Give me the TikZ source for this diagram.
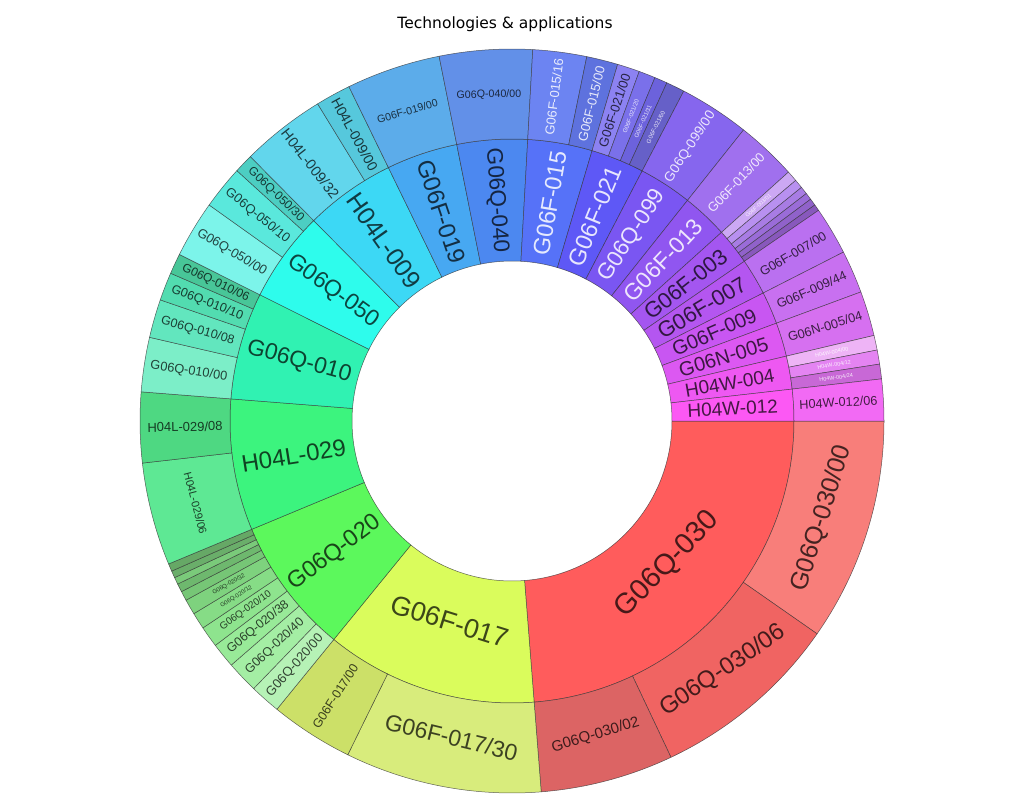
\documentclass[tikz,border=0pt]{standalone}
\usepackage{fontspec}
\setmainfont{Liberation Sans}
\newfontfamily\titlefont{DejaVu Sans}

\tikzstyle{seg} = [draw=black!80, line width=0.5pt, draw opacity=0.75]
\tikzstyle{lab} = [text=black, text opacity=0.72, inner sep=0pt, anchor=center]
\tikzstyle{wlab} = [lab, text=white, text opacity=0.85]

\newcommand{\lblsize}[1]{\fontsize{#1}{#1}\selectfont}
% ring segment: inner r, outer r, start, end, fill (HTML)
\newcommand{\ringseg}[5]{\definecolor{segfill}{HTML}{#5}%
  \filldraw[seg, fill=segfill] (#3:#1pt) arc[start angle=#3, end angle=#4, radius=#1pt]
  -- (#4:#2pt) arc[start angle=#4, end angle=#3, radius=#2pt] -- cycle;}

\begin{document}
\begin{tikzpicture}[x=1pt, y=1pt]
\useasboundingbox (-512,-379) rectangle (512,421);

% inner ring
\ringseg{160}{282}{274.5}{360}{FF5C5C}
\ringseg{160}{282}{230.8}{274.5}{DAFC5C}
\ringseg{160}{282}{202.6}{230.8}{5CF85C}
\ringseg{160}{282}{175.5}{202.6}{3CF47E}
\ringseg{160}{282}{153.4}{175.5}{30F2B2}
\ringseg{160}{282}{134.7}{153.4}{2EFCEC}
\ringseg{160}{282}{116}{134.7}{3CD8F5}
\ringseg{160}{282}{101.3}{116}{47A8F2}
\ringseg{160}{282}{86.8}{101.3}{4C88F0}
\ringseg{160}{282}{73.5}{86.8}{5672F8}
\ringseg{160}{282}{62.5}{73.5}{5E58F6}
\ringseg{160}{282}{51.5}{62.5}{7A56F2}
\ringseg{160}{282}{42}{51.5}{9056F0}
\ringseg{160}{282}{34.5}{42}{A456F0}
\ringseg{160}{282}{27}{34.5}{B456F0}
\ringseg{160}{282}{20.3}{27}{C856F2}
\ringseg{160}{282}{13.3}{20.3}{DC58F2}
\ringseg{160}{282}{6.5}{13.3}{EE58F2}
\ringseg{160}{282}{0}{6.5}{FC58F4}

% outer ring
\ringseg{282}{372}{325.1}{360}{F87E7A}
\ringseg{282}{372}{295.3}{325.1}{F06462}
\ringseg{282}{372}{274.5}{295.3}{DC6464}
\ringseg{282}{372}{243.8}{274.5}{D8EC7C}
\ringseg{282}{372}{230.8}{243.8}{CCE068}
\ringseg{282}{372}{226}{230.8}{B6F2B6}
\ringseg{282}{372}{221}{226}{A4EEA4}
\ringseg{282}{372}{217.1}{221}{98EA98}
\ringseg{282}{372}{213.8}{217.1}{8EE48E}
\ringseg{282}{372}{211.2}{213.8}{86DC86}
\ringseg{282}{372}{208.8}{211.2}{7ED27E}
\ringseg{282}{372}{207.3}{208.8}{76C676}
\ringseg{282}{372}{206}{207.3}{6EB86E}
\ringseg{282}{372}{204.9}{206}{7ACA7A}
\ringseg{282}{372}{203.8}{204.9}{6AAE6A}
\ringseg{282}{372}{202.6}{203.8}{66A866}
\ringseg{282}{372}{186.5}{202.6}{5EE894}
\ringseg{282}{372}{175.5}{186.5}{4ED882}
\ringseg{282}{372}{167}{175.5}{7CEEC8}
\ringseg{282}{372}{161}{167}{62E6BE}
\ringseg{282}{372}{156.6}{161}{52DCB0}
\ringseg{282}{372}{153.4}{156.6}{48C698}
\ringseg{282}{372}{144.5}{153.4}{7CF4EA}
\ringseg{282}{372}{137.7}{144.5}{5AE8DC}
\ringseg{282}{372}{134.7}{137.7}{4CCEC2}
\ringseg{282}{372}{121.5}{134.7}{62D6EC}
\ringseg{282}{372}{116}{121.5}{56C8DC}
\ringseg{282}{372}{101.3}{116}{5CACEA}
\ringseg{282}{372}{86.8}{101.3}{6290E8}
\ringseg{282}{372}{78.4}{86.8}{6C84F2}
\ringseg{282}{372}{73.5}{78.4}{5E72DE}
\ringseg{282}{372}{70}{73.5}{8C82F2}
\ringseg{282}{372}{67.4}{70}{7A70EA}
\ringseg{282}{372}{65.4}{67.4}{6C62DC}
\ringseg{282}{372}{62.5}{65.4}{6660C8}
\ringseg{282}{372}{51.5}{62.5}{8666EE}
\ringseg{282}{372}{42}{51.5}{A070EE}
\ringseg{282}{372}{40.3}{42}{CCA8F4}
\ringseg{282}{372}{38.9}{40.3}{B890F0}
\ringseg{282}{372}{37.7}{38.9}{A87CE4}
\ringseg{282}{372}{36.6}{37.7}{9A6CD8}
\ringseg{282}{372}{35.5}{36.6}{9062CA}
\ringseg{282}{372}{34.5}{35.5}{8858BC}
\ringseg{282}{372}{27}{34.5}{BA70F0}
\ringseg{282}{372}{20.3}{27}{C870F0}
\ringseg{282}{372}{13.3}{20.3}{D670F0}
\ringseg{282}{372}{11}{13.3}{EEB4F6}
\ringseg{282}{372}{8.8}{11}{E484F2}
\ringseg{282}{372}{6.5}{8.8}{C868D6}
\ringseg{282}{372}{0}{6.5}{F26AF4}

% inner labels
\node[lab, rotate=46, font=\lblsize{29}] (g06q030) at (317.25:212pt) {G06Q-030};
\node[lab, rotate=-17.35, font=\lblsize{27}] (g06f017) at (252.65:210pt) {G06F-017};
\node[lab, rotate=36.7, font=\lblsize{23.5}] (g06q020) at (216.7:221pt) {G06Q-020};
\node[lab, rotate=9.05, font=\lblsize{24}] (h04l029) at (189.05:221pt) {H04L-029};
\node[lab, rotate=-15.55, font=\lblsize{23}] (g06q010) at (164.45:221pt) {G06Q-010};
\node[lab, rotate=-35.95, font=\lblsize{23}] (g06q050) at (144.05:221pt) {G06Q-050};
\node[lab, rotate=-54.65, font=\lblsize{25}] (h04l009) at (125.35:221pt) {H04L-009};
\node[lab, rotate=-71.35, font=\lblsize{24}] (g06f019) at (108.65:221pt) {G06F-019};
\node[lab, rotate=-85.95, font=\lblsize{22.5}] (g06q040) at (94.05:221pt) {G06Q-040};
\node[wlab, rotate=80.15, font=\lblsize{23.5}] (g06f015) at (80.15:221pt) {G06F-015};
\node[wlab, rotate=68, font=\lblsize{23.5}] (g06f021) at (68:221pt) {G06F-021};
\node[wlab, rotate=57, font=\lblsize{22.5}] (g06q099) at (57:221pt) {G06Q-099};
\node[wlab, rotate=46.75, font=\lblsize{23}] (g06f013) at (46.75:221pt) {G06F-013};
\node[lab, rotate=38.25, font=\lblsize{22}] (g06f003) at (38.25:221pt) {G06F-003};
\node[lab, rotate=30.75, font=\lblsize{22}] (g06f007) at (30.75:221pt) {G06F-007};
\node[lab, rotate=23.65, font=\lblsize{20}] (g06f009) at (23.65:221pt) {G06F-009};
\node[lab, rotate=16.8, font=\lblsize{20}] (g06n005) at (16.8:221pt) {G06N-005};
\node[lab, rotate=9.9, font=\lblsize{19}] (h04w004) at (9.9:221pt) {H04W-004};
\node[lab, rotate=3.25, font=\lblsize{19}] (h04w012) at (3.25:221pt) {H04W-012};

% outer labels
\node[lab, rotate=72.55, font=\lblsize{25}] (g06q030a) at (342.55:325pt) {G06Q-030/00};
\node[lab, rotate=34, font=\lblsize{24}] (g06q030b) at (310.2:327pt) {G06Q-030/06};
\node[lab, rotate=17, font=\lblsize{15}] (g06q030c) at (284.9:325pt) {G06Q-030/02};
\node[lab, rotate=-13.7, font=\lblsize{23}] (g06f017a) at (259.15:322pt) {G06F-017/30};
\node[lab, rotate=57.3, font=\lblsize{12.5}] (g06f017b) at (237.3:327pt) {G06F-017/00};
\node[lab, rotate=48.4, font=\lblsize{13}] (g06q020a) at (228.4:327pt) {G06Q-020/00};
\node[lab, rotate=43.5, font=\lblsize{12.5}] (g06q020b) at (223.5:327pt) {G06Q-020/40};
\node[lab, rotate=39.05, font=\lblsize{12.5}] (g06q020c) at (219.05:327pt) {G06Q-020/38};
\node[lab, rotate=35.45, font=\lblsize{10}] (g06q020d) at (215.45:327pt) {G06Q-020/10};
\node[lab, rotate=32.5, font=\lblsize{6}] (g06q020e) at (212.5:327pt) {G06Q-020/12};
\node[lab, rotate=30, font=\lblsize{6}] (g06q020f) at (210:327pt) {G06Q-020/32};
\node[lab, rotate=-75.45, font=\lblsize{11}] (h04l029a) at (194.55:327pt) {H04L-029/06};
\node[lab, rotate=1, font=\lblsize{13}] (h04l029b) at (181:327pt) {H04L-029/08};
\node[lab, rotate=-8.75, font=\lblsize{12.8}] (g06q010a) at (171.25:327pt) {G06Q-010/00};
\node[lab, rotate=-16, font=\lblsize{12.5}] (g06q010b) at (164:327pt) {G06Q-010/08};
\node[lab, rotate=-21.2, font=\lblsize{12.5}] (g06q010c) at (158.8:327pt) {G06Q-010/10};
\node[lab, rotate=-25, font=\lblsize{12}] (g06q010d) at (155:327pt) {G06Q-010/06};
\node[lab, rotate=-31.05, font=\lblsize{13}] (g06q050a) at (148.95:327pt) {G06Q-050/00};
\node[lab, rotate=-38.9, font=\lblsize{13}] (g06q050b) at (141.1:327pt) {G06Q-050/10};
\node[lab, rotate=-43.8, font=\lblsize{12}] (g06q050c) at (136.2:327pt) {G06Q-050/30};
\node[lab, rotate=-51.9, font=\lblsize{14.5}] (h04l009a) at (128.1:327pt) {H04L-009/32};
\node[lab, rotate=-61.25, font=\lblsize{14}] (h04l009b) at (118.75:327pt) {H04L-009/00};
\node[lab, rotate=16, font=\lblsize{10.6}] (g06f019a) at (108.65:327pt) {G06F-019/00};
\node[lab, rotate=1, font=\lblsize{10.7}] (g06q040a) at (94.05:327pt) {G06Q-040/00};
\node[wlab, rotate=82.6, font=\lblsize{13}] (g06f015a) at (82.6:327pt) {G06F-015/16};
\node[wlab, rotate=75.95, font=\lblsize{13}] (g06f015b) at (75.95:327pt) {G06F-015/00};
\node[lab, rotate=71.75, font=\lblsize{13}] (g06f021a) at (71.75:327pt) {G06F-021/00};
\node[wlab, rotate=68.7, font=\lblsize{6}] (g06f021b) at (68.7:327pt) {G06F-021/20};
\node[wlab, rotate=66.4, font=\lblsize{6}] (g06f021c) at (66.4:327pt) {G06F-021/31};
\node[wlab, rotate=63.95, font=\lblsize{6}] (g06f021d) at (63.95:327pt) {G06F-021/60};
\node[wlab, rotate=57, font=\lblsize{13.5}] (g06q099a) at (57:327pt) {G06Q-099/00};
\node[wlab, rotate=46.75, font=\lblsize{13}] (g06f013a) at (46.75:327pt) {G06F-013/00};
\node[wlab, rotate=41.15, font=\lblsize{5.5}] (g06f003a) at (41.15:327pt) {G06F-003/01};
\node[lab, rotate=30.75, font=\lblsize{12.7}] (g06f007a) at (30.75:327pt) {G06F-007/00};
\node[lab, rotate=23.65, font=\lblsize{12.7}] (g06f009a) at (23.65:327pt) {G06F-009/44};
\node[lab, rotate=16.8, font=\lblsize{12.8}] (g06n005a) at (16.8:327pt) {G06N-005/04};
\node[wlab, rotate=12.15, font=\lblsize{5.5}] (h04w004a) at (12.15:327pt) {H04W-004/00};
\node[wlab, rotate=9.9, font=\lblsize{5.5}] (h04w004b) at (9.9:327pt) {H04W-004/12};
\node[wlab, rotate=7.65, font=\lblsize{5.5}] (h04w004c) at (7.65:327pt) {H04W-004/24};
\node[lab, rotate=3.25, font=\lblsize{12.7}] (h04w012a) at (3.25:327pt) {H04W-012/06};

\node[font=\titlefont\lblsize{15.5}, text=black] (title) at (-7,397) {Technologies \& applications};
\end{tikzpicture}
\end{document}
